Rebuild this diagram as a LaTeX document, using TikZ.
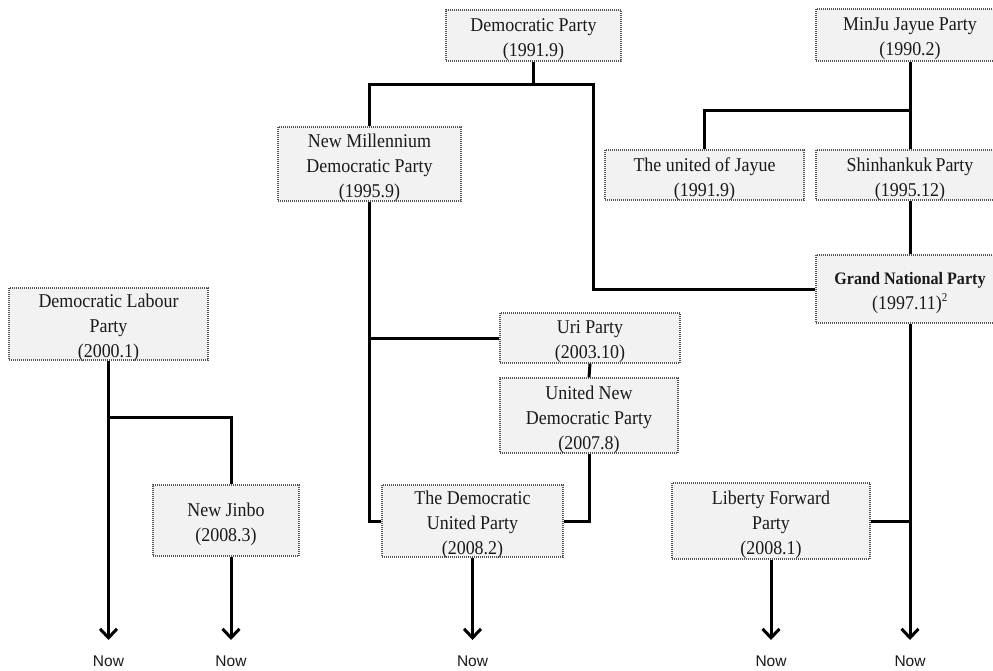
\documentclass[tikz,border=0pt]{standalone}
\usepackage{fontspec}
\setmainfont{Liberation Serif}[FakeStretch=0.92]
\setsansfont{Liberation Sans}
\usetikzlibrary{arrows.meta}
\definecolor{boxfill}{HTML}{F2F2F2}
\definecolor{boxline}{HTML}{555555}
\definecolor{txt}{HTML}{1A1A1A}
\begin{document}
\begin{tikzpicture}[x=1pt,y=-1pt,
  box/.style={rectangle, draw=boxline, fill=boxfill, line width=1.2pt, dash pattern=on 1pt off 1pt, inner sep=0pt},
  lbl/.style={font=\fontsize{19.5}{25}\selectfont, align=center, text=txt, inner sep=0pt, yshift=-4pt},
  conn/.style={line width=3pt, draw=black},
  nowarrow/.style={conn, -{Straight Barb[length=9pt,width=17pt]}},
  nowtext/.style={font=\sffamily\fontsize{15.5}{18}\selectfont, text=txt, inner sep=0pt}
]
\useasboundingbox (0,0) rectangle (993,670);

% boxes
\node[box, minimum width=175pt, minimum height=51pt] (dp) at (533.5,35.5) {};
\node[box, minimum width=188pt, minimum height=52pt] (mj) at (910,35) {};
\node[box, minimum width=199pt, minimum height=50pt] (uj) at (704.5,175) {};
\node[box, minimum width=188pt, minimum height=50pt] (sh) at (910,175) {};
\node[box, minimum width=183pt, minimum height=74pt] (nm) at (369.5,164) {};
\node[box, minimum width=188pt, minimum height=68pt] (gnp) at (910,289) {};
\node[box, minimum width=199pt, minimum height=72pt] (dlp) at (108.5,324) {};
\node[box, minimum width=180pt, minimum height=50pt] (uri) at (590,338) {};
\node[box, minimum width=178pt, minimum height=75pt] (undp) at (589,415.5) {};
\node[box, minimum width=146pt, minimum height=71pt] (nj) at (226,520.5) {};
\node[box, minimum width=181pt, minimum height=72pt] (dup) at (472.5,521) {};
\node[box, minimum width=198pt, minimum height=76pt] (lfp) at (771,521) {};

% labels
\node[lbl] (tdp) at (dp.center) {Democratic Party\\(1991.9)};
\node[lbl] (tmj) at (mj.center) {MinJu Jayue Party\\(1990.2)};
\node[lbl] (tuj) at (uj.center) {The united of Jayue\\(1991.9)};
\node[lbl] (tsh) at (sh.center) {Shinhankuk\,Party\\(1995.12)};
\node[lbl] (tnm) at (nm.center) {New Millennium\\Democratic Party\\(1995.9)};
\node[lbl] (tgnp) at (gnp.center) {{\fontsize{17.5}{25}\selectfont\bfseries Grand National Party}\\(1997.11)\textsuperscript{\fontsize{12}{12}\selectfont 2}};
\node[lbl] (tdlp) at (dlp.center) {Democratic Labour\\Party\\(2000.1)};
\node[lbl] (turi) at (uri.center) {Uri Party\\(2003.10)};
\node[lbl] (tundp) at (undp.center) {United New\\Democratic Party\\(2007.8)};
\node[lbl] (tnj) at (nj.center) {New Jinbo\\(2008.3)};
\node[lbl] (tdup) at (dup.center) {The Democratic\\United Party\\(2008.2)};
\node[lbl] (tlfp) at (lfp.center) {Liberty Forward\\Party\\(2008.1)};

% junctions and ends
\coordinate (jdp) at (533.5,84);
\coordinate (jdpR) at (593,84);
\coordinate (jmj) at (910,110);
\coordinate (jdl) at (231,417);
\coordinate (e1) at (108.5,640);
\coordinate (e2) at (231,640);
\coordinate (e3) at (472.5,640);
\coordinate (e4) at (771,640);
\coordinate (e5) at (910,640);

% Now labels
\node[nowtext] (n1) at (108.5,661) {Now};
\node[nowtext] (n2) at (231,661) {Now};
\node[nowtext] (n3) at (472.5,661) {Now};
\node[nowtext] (n4) at (771,661) {Now};
\node[nowtext] (n5) at (910,661) {Now};

% connectors
\draw[conn] (dp.south) -- (jdp);
\draw[conn, line join=miter] (nm.north) |- (jdpR) |- (gnp.west);
\draw[conn] (mj.south) -- (sh.north);
\draw[conn, line join=miter] (uj.north) |- (jmj);
\draw[conn] (sh.south) -- (gnp.north);
\draw[conn, line join=miter] (nm.south) |- (dup.west);
\draw[conn] (uri.west) -- (uri.west -| nm.south);
\draw[conn] (uri.south) -- (undp.north);
\draw[conn, line join=miter] (undp.south) |- (dup.east);
\draw[conn] (lfp.east) -- (lfp.east -| gnp.south);
\draw[conn, line join=miter] (dlp.south |- jdl) -- (jdl) -- (jdl |- nj.north);

% arrows to now
\draw[nowarrow] (dlp.south) -- (e1);
\draw[nowarrow] (jdl |- nj.south) -- (e2);
\draw[nowarrow] (dup.south) -- (e3);
\draw[nowarrow] (lfp.south) -- (e4);
\draw[nowarrow] (gnp.south) -- (e5);
\end{tikzpicture}
\end{document}
